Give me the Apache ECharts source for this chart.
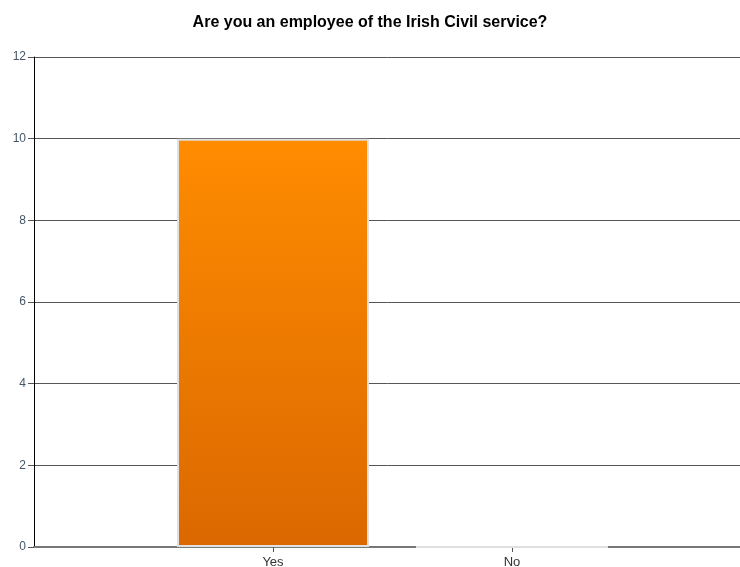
<!DOCTYPE html>
<html><head><meta charset="utf-8">
<script src="https://cdn.jsdelivr.net/npm/echarts@6/dist/echarts.min.js"></script>
<style>html,body{margin:0;padding:0;background:#fff;overflow:hidden}#c{width:740px;height:567px}</style>
</head><body><div id="c"></div>
<script>
const titleText = 'Are you an employee of the Irish Civil service?';
const categories = ['Yes', 'No'];
const values = [10, 0];
const yTicks = [0, 2, 4, 6, 8, 10, 12];

const axisCats = [''].concat(categories, ['']);
const axisVals = [null].concat(values, [null]);

const chart = echarts.init(document.getElementById('c'), null, {renderer: 'canvas'});
chart.setOption({
  animation: false,
  backgroundColor: '#ffffff',
  title: {
    text: titleText, left: 'center', top: 10,
    textStyle: {fontFamily: 'Liberation Sans, Arial, sans-serif', fontSize: 16, fontWeight: 'bold', color: '#000'}
  },
  grid: {left: 34, top: 57, right: -11, bottom: 20, containLabel: false, outerBoundsMode: 'none'},
  xAxis: {
    type: 'category', data: axisCats, boundaryGap: false,
    axisLine: {show: true, lineStyle: {color: '#777', width: 2}},
    axisTick: {show: true, length: 5, lineStyle: {color: '#555'}, interval: function(i){return i>0 && i<axisCats.length-1;}},
    axisLabel: {color: '#333', fontSize: 13, fontFamily: 'Liberation Sans, Arial, sans-serif', margin: 9, interval: 0},
    splitLine: {show: false}
  },
  yAxis: {
    type: 'value', min: yTicks[0], max: yTicks[yTicks.length-1], interval: 2,
    axisLine: {show: true, onZero: false, lineStyle: {color: '#000', width: 1}},
    axisTick: {show: true, length: 6, lineStyle: {color: '#555'}},
    axisLabel: {color: '#445566', fontSize: 12, fontFamily: 'Liberation Sans, Arial, sans-serif', margin: 8},
    splitLine: {show: true, lineStyle: {color: '#555', width: 1}}
  },
  series: [{
    type: 'bar', data: axisVals, barWidth: 192,
    itemStyle: {
      color: new echarts.graphic.LinearGradient(0, 0, 0, 1, [
        {offset: 0, color: '#ff8c00'}, {offset: 1, color: '#db6800'}
      ]),
      borderColor: '#e0e0e0', borderWidth: 2
    }
  }]
});
</script></body></html>
